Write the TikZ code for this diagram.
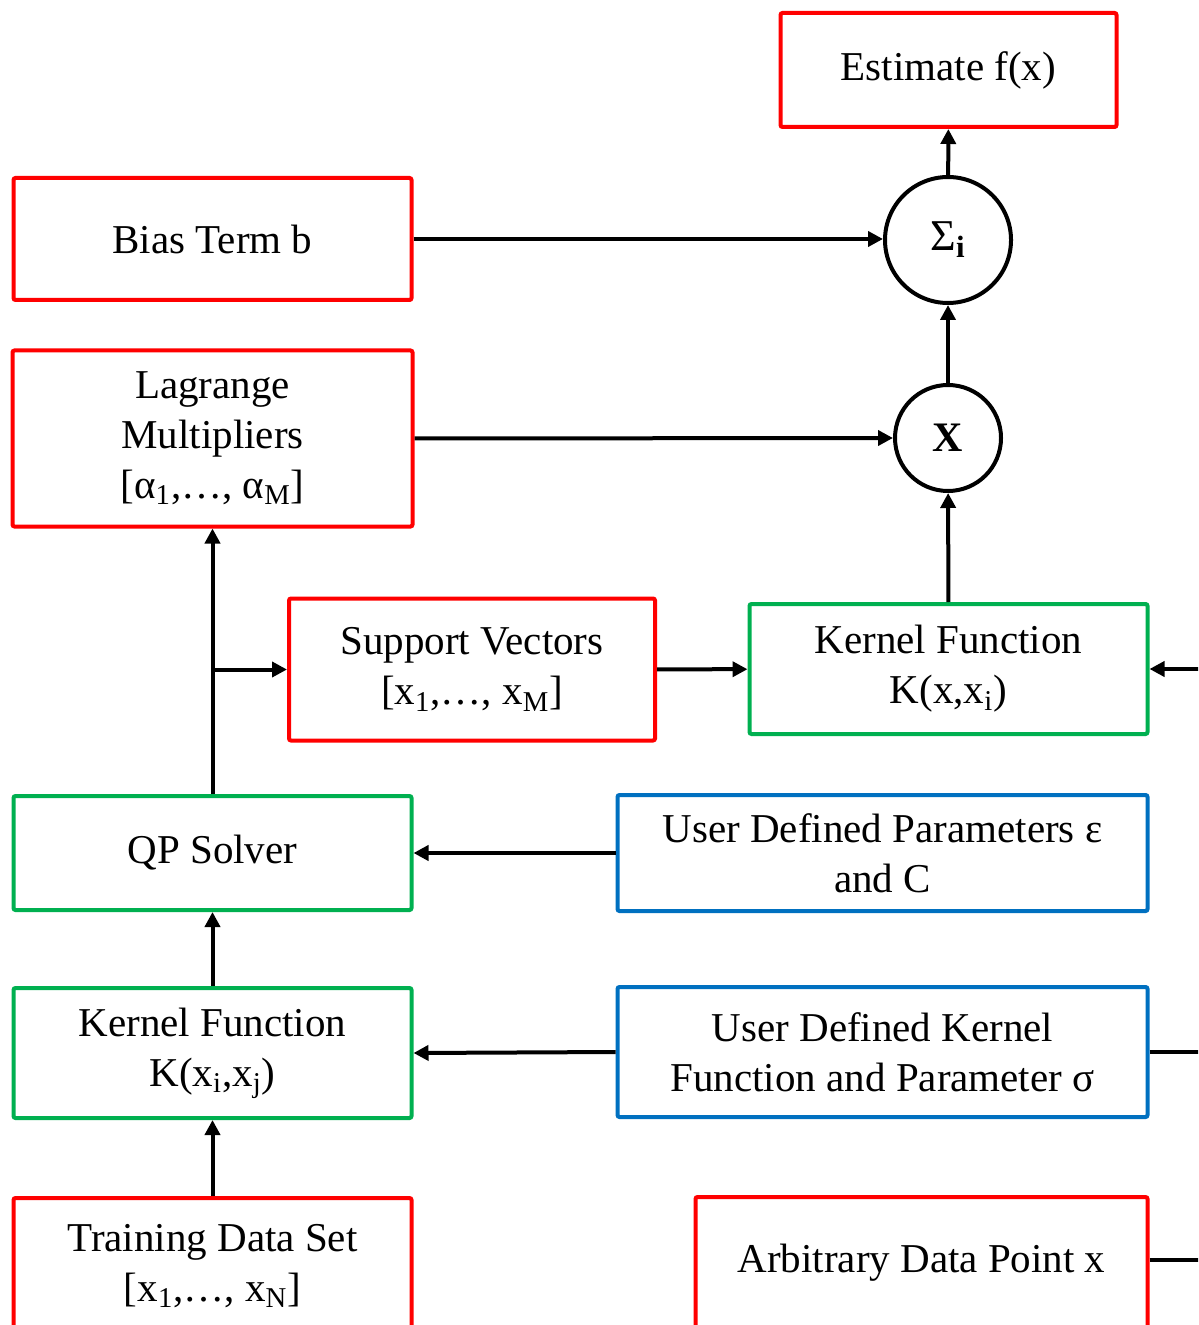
\documentclass[tikz,border=0pt]{standalone}
\usepackage{fontspec}
\setmainfont{Liberation Serif}
\usetikzlibrary{positioning,arrows.meta}
\definecolor{boxred}{RGB}{255,0,0}
\definecolor{boxgreen}{RGB}{0,176,80}
\definecolor{boxblue}{RGB}{0,112,192}

\begin{document}
\begin{tikzpicture}[x=0.5pt,y=-0.5pt,
    box/.style={draw,line width=2pt,rounded corners=1pt,align=center,inner sep=0pt,
      font=\fontsize{20.5}{25}\selectfont},
    redbox/.style={box,draw=boxred},
    greenbox/.style={box,draw=boxgreen},
    bluebox/.style={box,draw=boxblue},
    op/.style={circle,draw,line width=2pt,inner sep=0pt},
    link/.style={-{Triangle[length=7.5pt,width=7.5pt]},line width=2pt}]

     \useasboundingbox (0,0) rectangle (1198,1325);
     \clip (0,0) rectangle (1198,1325);

     % output side
     \node[redbox,minimum width=168pt,minimum height=57pt] (est) at (948.5,70) {Estimate f(x)};
     \node[op,minimum size=63pt,font=\fontsize{22}{26}\selectfont] (sum) at (948,240) {Σ\textsubscript{\textbf{i}}};
     \node[op,minimum size=53pt,font=\fontsize{21}{26}\selectfont\bfseries] (mul) at (948,438) {X};

     \node[redbox,minimum width=199pt,minimum height=61pt] (bias) at (212.5,239) {Bias Term b};
     \node[redbox,minimum width=200pt,minimum height=88pt] (lag) at (212.5,438.5) {Lagrange\\Multipliers\\{}[α\textsubscript{1},…, α\textsubscript{M}]};

     \node[redbox,minimum width=183pt,minimum height=71pt] (sv) at (472,669.5) {Support Vectors\\{}[x\textsubscript{1},…, x\textsubscript{M}]};
     \node[greenbox,minimum width=199pt,minimum height=65pt] (kf) at (948.5,669) {Kernel Function\\K(x,x\textsubscript{i})};

     % training side
     \node[greenbox,minimum width=199pt,minimum height=57pt] (qp) at (212.5,853) {QP Solver};
     \node[bluebox,minimum width=265pt,minimum height=58pt] (udp) at (882.5,853) {User Defined Parameters ε\\and C};

     \node[greenbox,minimum width=199pt,minimum height=65pt] (kt) at (212.5,1053) {Kernel Function\\K(x\textsubscript{i},x\textsubscript{j})};
     \node[bluebox,minimum width=265pt,minimum height=65pt] (udk) at (882.5,1052) {User Defined Kernel\\Function and Parameter σ};

     \node[redbox,minimum width=199pt,minimum height=68pt] (td) at (212.5,1266) {Training Data Set\\{}[x\textsubscript{1},…, x\textsubscript{N}]};
     \node[redbox,minimum width=226pt,minimum height=66pt] (adp) at (921.5,1263) {Arbitrary Data Point x};

     % free ends past the right border
     \coordinate (r1) at (1220,669);
     \coordinate (r2) at (1220,1052);
     \coordinate (r3) at (1220,1260);

     \draw[link] (sum) -- (est);
     \draw[link] (bias.east) -- (sum.west |- bias.east);
     \draw[link] (mul) -- (sum);
     \draw[link] (lag.east) -- (mul.west);
     \draw[link] (kf) -- (mul);
     \draw[link] (sv) -- (kf);

     \draw[link] (qp.north) -- (lag.south);
     \draw[link] (qp.north |- sv.west) -- (sv.west);

     \draw[link] (udp.west) -- (qp.east);
     \draw[link] (kt) -- (qp);
     \draw[link] (udk.west) -- (kt.east);
     \draw[link] (td) -- (kt);

     \draw[link] (r1) -- (kf.east);
     \draw[line width=2pt] (udk.east |- r2) -- (r2);
     \draw[line width=2pt] (adp.east |- r3) -- (r3);

\end{tikzpicture}
\end{document}
